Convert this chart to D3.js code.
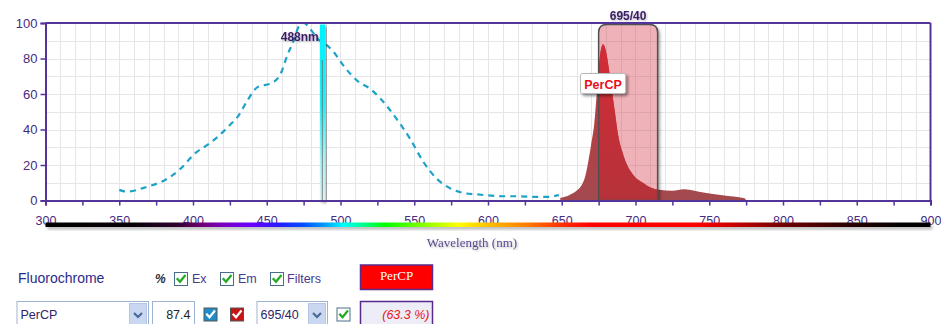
<!DOCTYPE html>
<html>
<head>
<meta charset="utf-8">
<script src="https://cdn.jsdelivr.net/npm/d3@7"></script>
<style>
  html, body { margin: 0; padding: 0; background: #ffffff; }
  svg { display: block; }
</style>
</head>
<body>
<div id="chart"></div>
<script>
// ---------------- data ----------------
const xTickValues = [300,325,350,375,400,425,450,475,500,525,550,575,600,625,650,675,700,725,750,775,800,825,850,875,900];
const yTickValues = [0,20,40,60,80,100];

// excitation spectrum (PerCP), dashed
const exWavelength = [350,355,368,384,391,402,411,425,431,437,444,453,460,464,468,472,475,481,486,490,495,502,512,520,527,538,547,556,565,574,585,593,610,620,632,640,648];
const exValue      = [6,5,7.5,13,17.5,27,32,42.5,48,56.5,64,66,72.5,82,89.5,98.5,100,95,90,88,84,76,67,63,57.5,46,35,22,12.5,7,4,3.4,2.4,2.4,2,2,3];

// emission spectrum (PerCP), filled
const emWavelength = [649,655,660,663,666,668,670,672,674,676,678,680,682,684,686,688,692,698,705,711,716,725,733,740,746,759,774,775];
const emValue      = [1.5,3,5.5,8,14,22,32,43,63,82,88,84,74,62,50,38,25,15,10,7,6,5.5,6.3,5.5,4.5,3,1.2,0];

const laserWavelength = 488;
const laserLabel = "488nm";
const filterCenter = 695;
const filterWidth = 40;
const filterLabel = "695/40";
const fluorName = "PerCP";
const excitationPercent = "87.4";
const collectedPercent = "(63.3 %)";

// spectrum bar colour stops [wavelength, colour]
const spectrumWl  = [300,360,390,405,420,440,460,475,490,502,515,530,555,580,600,625,650,670,740,770,800,840,880,900];
const spectrumCol = ["#000000","#080008","#300030","#700070","#7a00c0","#6a00ff","#2020ff","#0050ff","#00a0ff","#00ffff","#00ff90","#00ff00","#80ff00","#ffff00","#ffc000","#ff8000","#ff3000","#ff0000","#ff0000","#c00000","#700000","#300000","#000000","#000000"];

// ---------------- layout ----------------
const W = 941, H = 324;
const x = d3.scaleLinear().domain([300, 900]).range([45.5, 930.5]);
const y = d3.scaleLinear().domain([0, 100]).range([200.5, 23]);
const axisColor = "#54339a";
const labelColor = "#452c80";

const svg = d3.select("#chart").append("svg")
  .attr("width", W).attr("height", H)
  .attr("viewBox", `0 0 ${W} ${H}`);

const defs = svg.append("defs");

// drop shadow filter
const sh = defs.append("filter").attr("id", "shadow")
  .attr("x", "-30%").attr("y", "-30%").attr("width", "160%").attr("height", "160%");
sh.append("feGaussianBlur").attr("in", "SourceAlpha").attr("stdDeviation", 1.5).attr("result", "b");
sh.append("feOffset").attr("in", "b").attr("dx", 2).attr("dy", 2).attr("result", "o");
sh.append("feComponentTransfer").attr("in", "o").attr("result", "o2")
  .append("feFuncA").attr("type", "linear").attr("slope", 0.45);
const shm = sh.append("feMerge");
shm.append("feMergeNode").attr("in", "o2");
shm.append("feMergeNode").attr("in", "SourceGraphic");

const blur = defs.append("filter").attr("id", "blur1")
  .attr("x", "-20%").attr("y", "-20%").attr("width", "140%").attr("height", "140%");
blur.append("feGaussianBlur").attr("stdDeviation", 1.4);

const textSh = defs.append("filter").attr("id", "textshadow")
  .attr("x", "-10%").attr("y", "-30%").attr("width", "120%").attr("height", "160%");
textSh.append("feGaussianBlur").attr("in", "SourceAlpha").attr("stdDeviation", 0.8).attr("result", "b");
textSh.append("feOffset").attr("in", "b").attr("dx", 1).attr("dy", 1).attr("result", "o");
textSh.append("feComponentTransfer").attr("in", "o").attr("result", "o2")
  .append("feFuncA").attr("type", "linear").attr("slope", 0.3);
const tsm = textSh.append("feMerge");
tsm.append("feMergeNode").attr("in", "o2");
tsm.append("feMergeNode").attr("in", "SourceGraphic");

// spectrum gradient
const sg = defs.append("linearGradient").attr("id", "spectrum")
  .attr("gradientUnits", "userSpaceOnUse")
  .attr("x1", x(300)).attr("x2", x(900)).attr("y1", 0).attr("y2", 0);
spectrumWl.forEach((wl, i) => {
  sg.append("stop").attr("offset", ((wl - 300) / 600 * 100) + "%").attr("stop-color", spectrumCol[i]);
});

// laser gradient
const lg = defs.append("linearGradient").attr("id", "laser")
  .attr("x1", 0).attr("x2", 0).attr("y1", 0).attr("y2", 1);
lg.append("stop").attr("offset", "0%").attr("stop-color", "#00f2ff");
lg.append("stop").attr("offset", "45%").attr("stop-color", "#22eef6");
lg.append("stop").attr("offset", "75%").attr("stop-color", "#a8f2f4");
lg.append("stop").attr("offset", "100%").attr("stop-color", "#e0f0f0");

// emission gradients
const eo = defs.append("linearGradient").attr("id", "emOut")
  .attr("gradientUnits", "userSpaceOnUse").attr("x1", 0).attr("x2", 0).attr("y1", y(90)).attr("y2", y(0));
eo.append("stop").attr("offset", "0%").attr("stop-color", "#c8343b");
eo.append("stop").attr("offset", "100%").attr("stop-color", "#a24a4f");
const ei = defs.append("linearGradient").attr("id", "emIn")
  .attr("gradientUnits", "userSpaceOnUse").attr("x1", 0).attr("x2", 0).attr("y1", y(90)).attr("y2", y(0));
ei.append("stop").attr("offset", "0%").attr("stop-color", "#d42c35");
ei.append("stop").attr("offset", "100%").attr("stop-color", "#b5323a");

// ---------------- grid ----------------
const grid = svg.append("g").attr("class", "grid");
grid.selectAll("line.v").data(d3.range(310, 900, 10)).join("line")
  .attr("class", "v")
  .attr("x1", d => Math.round(x(d)) + 0.5).attr("x2", d => Math.round(x(d)) + 0.5)
  .attr("y1", y(100)).attr("y2", y(0))
  .attr("stroke", "#e6e6e9").attr("stroke-width", 1);
grid.selectAll("line.h").data(d3.range(10, 100, 10)).join("line")
  .attr("class", "h")
  .attr("x1", x(300)).attr("x2", x(900))
  .attr("y1", d => Math.round(y(d)) + 0.5).attr("y2", d => Math.round(y(d)) + 0.5)
  .attr("stroke", "#e6e6e9").attr("stroke-width", 1);

// ---------------- emission (outside filter colour) ----------------
const emData = emWavelength.map((w, i) => [w, emValue[i]]);
const area = d3.area().x(d => x(d[0])).y0(y(0)).y1(d => y(d[1])).curve(d3.curveMonotoneX);
svg.append("path").datum(emData).attr("d", area).attr("fill", "url(#emOut)");

// ---------------- filter band ----------------
const fx0 = x(filterCenter - filterWidth / 2), fx1 = x(filterCenter + filterWidth / 2);
const ftop = 24.5, fbot = y(0), r = 8;
const bandPath = `M${fx0},${fbot} L${fx0},${ftop + r} Q${fx0},${ftop} ${fx0 + r},${ftop} L${fx1 - r},${ftop} Q${fx1},${ftop} ${fx1},${ftop + r} L${fx1},${fbot} Z`;
defs.append("clipPath").attr("id", "bandClip").append("path").attr("d", bandPath);

// shadow only outside the band (mask excludes the band interior)
const mask = defs.append("mask").attr("id", "outsideBand")
  .attr("maskUnits", "userSpaceOnUse").attr("x", 0).attr("y", 0).attr("width", W).attr("height", H);
mask.append("rect").attr("x", 0).attr("y", 0).attr("width", W).attr("height", y(0)).attr("fill", "#fff");
mask.append("path").attr("d", bandPath).attr("fill", "#000");
svg.append("g").attr("mask", "url(#outsideBand)")
  .append("path").attr("d", bandPath).attr("transform", "translate(2.5,2)")
  .attr("fill", "#000").attr("opacity", 0.35).attr("filter", "url(#blur1)");

svg.append("path").attr("d", bandPath).attr("fill", "rgba(214,72,86,0.42)");
svg.append("path").datum(emData).attr("d", area).attr("fill", "url(#emIn)")
  .attr("clip-path", "url(#bandClip)");
svg.append("path").attr("d", bandPath)
  .attr("fill", "none").attr("stroke", "#505050").attr("stroke-width", 1.5);

// ---------------- excitation (dashed) ----------------
const exData = exWavelength.map((w, i) => [w, exValue[i]]);
const line = d3.line().x(d => x(d[0])).y(d => y(d[1])).curve(d3.curveMonotoneX);
svg.append("path").datum(exData).attr("d", line)
  .attr("fill", "none").attr("stroke", "#1ea2c8").attr("stroke-width", 2.2)
  .attr("stroke-dasharray", "6,5");

// ---------------- laser line ----------------
const lx = x(laserWavelength);
svg.append("rect").attr("x", lx - 3).attr("y", 24.5).attr("width", 5.5).attr("height", y(0) - 24.5)
  .attr("fill", "url(#laser)").attr("filter", "url(#shadow)");
svg.append("line").attr("x1", lx - 0.5).attr("x2", lx - 0.5).attr("y1", 60).attr("y2", y(0))
  .attr("stroke", "#6a6a6a").attr("stroke-width", 1).attr("opacity", 0.8);

// ---------------- axes ----------------
const xAxis = d3.axisBottom(x).tickValues(xTickValues)
  .tickFormat(d => d % 50 === 0 ? d : "").tickSize(5).tickPadding(11);
const gx = svg.append("g").attr("transform", `translate(0,${y(0)})`).call(xAxis);
gx.select(".domain").attr("stroke", axisColor).attr("stroke-width", 2);
gx.selectAll(".tick line").attr("stroke", axisColor).attr("stroke-width", 1.5);
gx.selectAll(".tick text").attr("fill", labelColor)
  .attr("font-family", "'Liberation Sans', Arial, sans-serif").attr("font-size", 12.5);

const yAxis = d3.axisLeft(y).tickValues(yTickValues).tickSize(5).tickPadding(3);
const gy = svg.append("g").attr("transform", `translate(${x(300)},0)`).call(yAxis);
gy.select(".domain").attr("stroke", axisColor).attr("stroke-width", 2);
gy.selectAll(".tick line").attr("stroke", axisColor).attr("stroke-width", 1.5);
gy.selectAll(".tick text").attr("fill", labelColor)
  .attr("font-family", "'Liberation Sans', Arial, sans-serif").attr("font-size", 13);

// top and right border
svg.append("line").attr("x1", x(300)).attr("x2", x(900)).attr("y1", y(100)).attr("y2", y(100))
  .attr("stroke", axisColor).attr("stroke-width", 2);
svg.append("line").attr("x1", x(900)).attr("x2", x(900)).attr("y1", y(100)).attr("y2", y(0))
  .attr("stroke", axisColor).attr("stroke-width", 2);

// ---------------- labels on chart ----------------
svg.append("text").attr("x", lx - 4).attr("y", 41).attr("text-anchor", "end")
  .attr("font-family", "'Liberation Sans', Arial, sans-serif").attr("font-weight", "bold")
  .attr("font-size", 12).attr("fill", "#3a1d66").attr("filter", "url(#textshadow)").text(laserLabel);

svg.append("text").attr("x", x(filterCenter)).attr("y", 20).attr("text-anchor", "middle")
  .attr("font-family", "'Liberation Sans', Arial, sans-serif").attr("font-weight", "bold")
  .attr("font-size", 12).attr("fill", "#3a1d66").attr("filter", "url(#textshadow)").text(filterLabel);

const tagX = x(678), tagY = 84;
svg.append("rect").attr("x", tagX - 22.5).attr("y", tagY - 10.5).attr("width", 45).attr("height", 20)
  .attr("rx", 2).attr("fill", "#ffffff").attr("stroke", "#b8b8b8").attr("stroke-width", 1)
  .attr("filter", "url(#shadow)");
svg.append("text").attr("x", tagX).attr("y", tagY + 4.5).attr("text-anchor", "middle")
  .attr("font-family", "'Liberation Sans', Arial, sans-serif").attr("font-weight", "bold")
  .attr("font-size", 12.5).attr("fill", "#e8101a").text(fluorName);

// ---------------- spectrum bar ----------------
svg.append("rect").attr("x", x(300) + 2).attr("y", 225.5).attr("width", x(900) - x(300)).attr("height", 4)
  .attr("fill", "#888").attr("opacity", 0.6).attr("filter", "url(#blur1)");
svg.append("rect").attr("x", x(300)).attr("y", 222.5).attr("width", x(900) - x(300)).attr("height", 4.5)
  .attr("fill", "url(#spectrum)");

svg.append("text").attr("x", 472).attr("y", 247).attr("text-anchor", "middle")
  .attr("font-family", "'Liberation Serif', 'Times New Roman', serif").attr("font-size", 13)
  .attr("fill", "#5d4c92").attr("filter", "url(#textshadow)").text("Wavelength (nm)");

// ---------------- control panel ----------------
const ui = svg.append("g").attr("class", "controls");
const sans = "'Liberation Sans', Arial, sans-serif";

function checkbox(g, bx, by, fill, checkColor, border) {
  g.append("rect").attr("x", bx + 0.5).attr("y", by + 0.5).attr("width", 13).attr("height", 13)
    .attr("fill", fill).attr("stroke", border).attr("stroke-width", 1);
  g.append("path").attr("d", `M${bx + 3.5},${by + 7} L${bx + 6},${by + 9.8} L${bx + 10.8},${by + 3.8}`)
    .attr("fill", "none").attr("stroke", checkColor).attr("stroke-width", 2.2)
    .attr("stroke-linecap", "square");
}

function dropdown(g, x0, x1, y0, label) {
  g.append("rect").attr("x", x0 + 0.5).attr("y", y0 + 0.5).attr("width", x1 - x0).attr("height", 26)
    .attr("fill", "#ffffff").attr("stroke", "#9fb4d0").attr("stroke-width", 1);
  g.append("rect").attr("x", x1 - 18.5).attr("y", y0 + 2.5).attr("width", 17).attr("height", 22)
    .attr("fill", "#c9d8f0").attr("stroke", "#b5c6e2").attr("stroke-width", 1);
  g.append("path").attr("d", `M${x1 - 14},${y0 + 12} L${x1 - 10},${y0 + 16} L${x1 - 6},${y0 + 12}`)
    .attr("fill", "none").attr("stroke", "#4a6896").attr("stroke-width", 2.2);
  g.append("text").attr("x", x0 + 4).attr("y", y0 + 17.5)
    .attr("font-family", sans).attr("font-size", 12.5).attr("fill", "#2e2466").text(label);
}

// row 1
ui.append("text").attr("x", 18).attr("y", 283).attr("font-family", sans).attr("font-size", 14)
  .attr("fill", "#2a2a8a").text("Fluorochrome");
ui.append("text").attr("x", 155).attr("y", 283).attr("font-family", sans).attr("font-size", 12)
  .attr("font-weight", "bold").attr("font-style", "italic").attr("fill", "#2a2a40").text("%");
checkbox(ui, 174, 272, "#ffffff", "#22aa22", "#4a6d8c");
ui.append("text").attr("x", 192).attr("y", 283).attr("font-family", sans).attr("font-size", 12.5)
  .attr("fill", "#4a3a8c").text("Ex");
checkbox(ui, 220, 272, "#ffffff", "#22aa22", "#4a6d8c");
ui.append("text").attr("x", 238).attr("y", 283).attr("font-family", sans).attr("font-size", 12.5)
  .attr("fill", "#4a3a8c").text("Em");
checkbox(ui, 270, 272, "#ffffff", "#22aa22", "#4a6d8c");
ui.append("text").attr("x", 287).attr("y", 283).attr("font-family", sans).attr("font-size", 12.5)
  .attr("fill", "#4a3a8c").text("Filters");

ui.append("rect").attr("x", 360.5).attr("y", 265).attr("width", 72).attr("height", 24.5)
  .attr("fill", "#ff0000").attr("stroke", "#5a2a8a").attr("stroke-width", 1.5);
ui.append("text").attr("x", 396.5).attr("y", 280).attr("text-anchor", "middle")
  .attr("font-family", "'Liberation Serif', 'Times New Roman', serif").attr("font-size", 13)
  .attr("fill", "#ffffff").text(fluorName);

// row 2
dropdown(ui, 16.5, 148, 301, fluorName);
ui.append("rect").attr("x", 152.5).attr("y", 301.5).attr("width", 42).attr("height", 26)
  .attr("fill", "#ffffff").attr("stroke", "#9fb4d0").attr("stroke-width", 1);
ui.append("text").attr("x", 190.5).attr("y", 318.5).attr("text-anchor", "end")
  .attr("font-family", sans).attr("font-size", 12.5).attr("fill", "#222").text(excitationPercent);
checkbox(ui, 203.5, 307.5, "#1e8cc8", "#ffffff", "#555");
checkbox(ui, 230, 307.5, "#c41414", "#ffffff", "#555");
dropdown(ui, 256.5, 327, 301, filterLabel);
checkbox(ui, 336.5, 307.5, "#ffffff", "#22aa22", "#4a6d8c");

ui.append("rect").attr("x", 360.5).attr("y", 301.5).attr("width", 72).attr("height", 26)
  .attr("fill", "#ededf8").attr("stroke", "#5a2a8a").attr("stroke-width", 1.5);
ui.append("text").attr("x", 429.5).attr("y", 318.5).attr("text-anchor", "end")
  .attr("font-family", sans).attr("font-size", 12.5).attr("font-style", "italic")
  .attr("fill", "#e82020").text(collectedPercent);
</script>
</body>
</html>
